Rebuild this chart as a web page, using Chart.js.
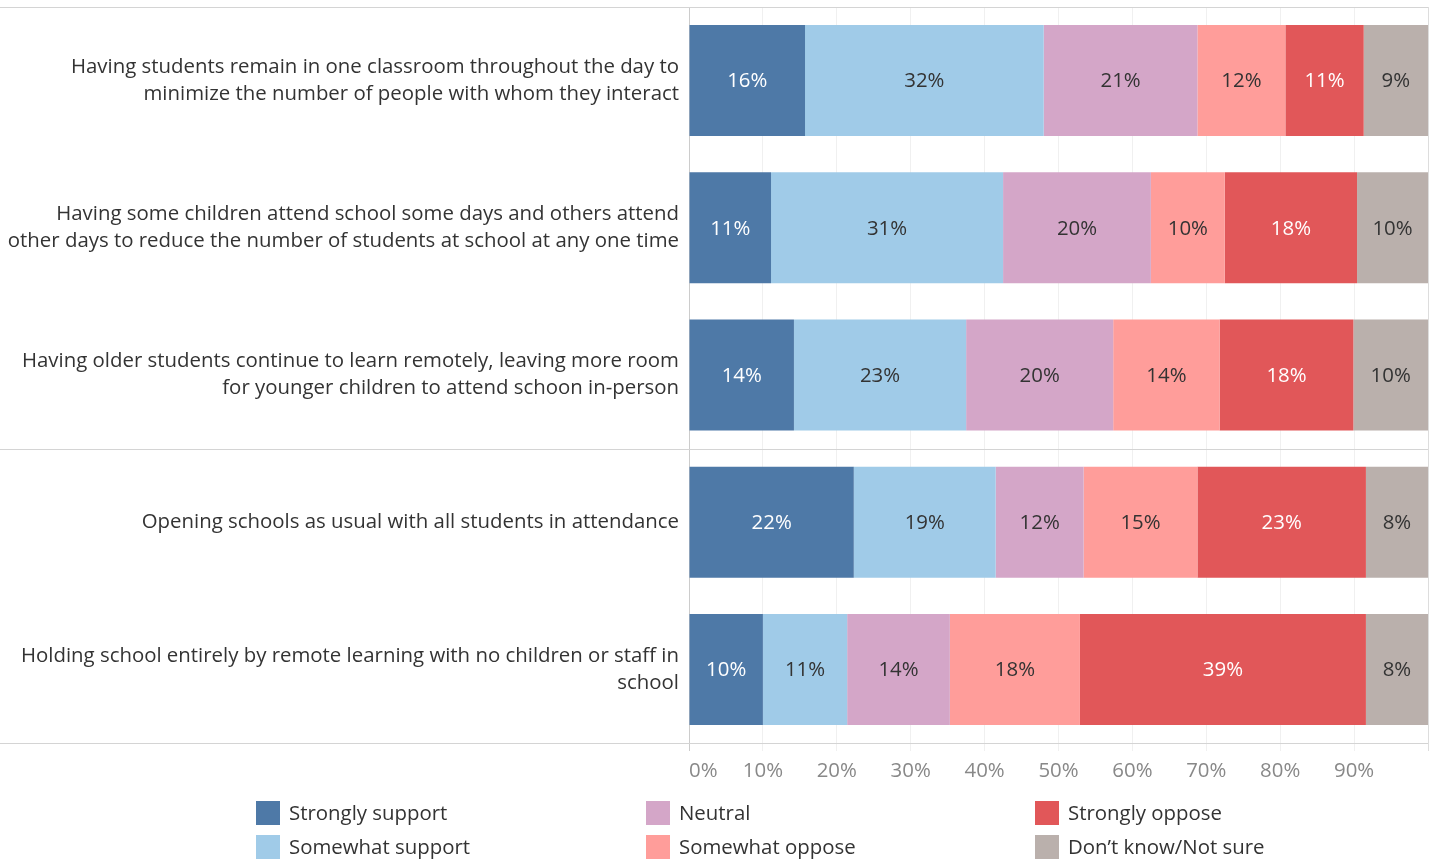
<!DOCTYPE html>
<html>
<head>
<meta charset="utf-8">
<script src="https://cdn.jsdelivr.net/npm/chart.js@4.4.1/dist/chart.umd.min.js"></script>
<style>
  html, body { margin: 0; padding: 0; background: #fff; }
  #wrap { width: 1433px; height: 863px; position: relative; }
</style>
</head>
<body>
<div id="wrap"><canvas id="chart"></canvas></div>
<script>
const questions = [
  ['Having students remain in one classroom throughout the day to', 'minimize the number of people with whom they interact'],
  ['Having some children attend school some days and others attend', 'other days to reduce the number of students at school at any one time'],
  ['Having older students continue to learn remotely, leaving more room', 'for younger children to attend schoon in-person'],
  'Opening schools as usual with all students in attendance',
  ['Holding school entirely by remote learning with no children or staff in', 'school']
];

const responses = ['Strongly support', 'Somewhat support', 'Neutral', 'Somewhat oppose', 'Strongly oppose', 'Don\u2019t know/Not sure'];

const stronglySupport = [15.7, 11.1, 14.2, 22.3, 10.0];
const somewhatSupport = [32.3, 31.4, 23.3, 19.2, 11.4];
const neutral         = [20.8, 20.0, 19.9, 11.9, 13.9];
const somewhatOppose  = [11.9, 10.0, 14.4, 15.4, 17.6];
const stronglyOppose  = [10.6, 17.9, 18.1, 22.8, 38.7];
const dontKnow        = [8.7, 9.6, 10.1, 8.4, 8.4];

const xTicks = [0, 10, 20, 30, 40, 50, 60, 70, 80, 90];

const colors = ['#4e79a7', '#a0cbe8', '#d4a6c8', '#ff9d9a', '#e15759', '#bab0ac'];
const labelColors = ['#ffffff', '#333333', '#333333', '#333333', '#ffffff', '#333333'];
const FONT = '"Open Sans"';
const SIZE = 20.4;

const series = [stronglySupport, somewhatSupport, neutral, somewhatOppose, stronglyOppose, dontKnow];

// draws the % inside each segment
const segmentLabels = {
  id: 'segmentLabels',
  afterDatasetsDraw(chart) {
    const ctx = chart.ctx;
    ctx.save();
    ctx.font = SIZE + 'px ' + FONT;
    ctx.textAlign = 'center';
    ctx.textBaseline = 'middle';
    chart.data.datasets.forEach((ds, i) => {
      const meta = chart.getDatasetMeta(i);
      meta.data.forEach((bar, j) => {
        const p = bar.getProps(['x', 'y', 'base'], true);
        ctx.fillStyle = labelColors[i];
        ctx.fillText(Math.round(ds.data[j]) + '%', (p.x + p.base) / 2, p.y + 1);
      });
    });
    ctx.restore();
  }
};

// header rules and legend, tableau style
const frame = {
  id: 'frame',
  afterDraw(chart) {
    const ctx = chart.ctx;
    const area = chart.chartArea;
    const y = chart.scales.y;
    ctx.save();
    ctx.strokeStyle = '#d4d4d4';
    ctx.lineWidth = 1;
    const rule = (py) => {
      ctx.beginPath();
      ctx.moveTo(0, Math.round(py) + 0.5);
      ctx.lineTo(area.right, Math.round(py) + 0.5);
      ctx.stroke();
    };
    rule(area.top);
    rule(y.getPixelForValue(2.5));
    rule(area.bottom);

    // legend, 3 columns x 2 rows
    const colX = [256, 646, 1035];
    const rowY = [813, 847];
    ctx.font = SIZE + 'px ' + FONT;
    ctx.textBaseline = 'middle';
    ctx.textAlign = 'left';
    responses.forEach((name, i) => {
      const cx = colX[Math.floor(i / 2)];
      const cy = rowY[i % 2];
      ctx.fillStyle = colors[i];
      ctx.fillRect(cx, cy - 12, 24, 24);
      ctx.fillStyle = '#333333';
      ctx.fillText(name, cx + 33, cy + 1);
    });
    ctx.restore();
  }
};

new Chart(document.getElementById('chart'), {
  type: 'bar',
  data: {
    labels: questions,
    datasets: responses.map((name, i) => ({
      label: name,
      data: series[i],
      backgroundColor: colors[i],
      borderWidth: 0,
      categoryPercentage: 1,
      barPercentage: 0.754
    }))
  },
  plugins: [segmentLabels, frame],
  options: {
    indexAxis: 'y',
    responsive: true,
    maintainAspectRatio: false,
    animation: false,
    layout: { padding: { top: 7, right: 5, left: 0, bottom: 0 } },
    scales: {
      x: {
        stacked: true,
        min: 0,
        max: 100,
        afterBuildTicks(scale) {
          scale.ticks = xTicks.concat([100]).map(v => ({ value: v }));
        },
        afterFit(scale) {
          scale.height = 120;
          scale.paddingLeft = 0;
          scale.paddingRight = 0;
        },
        border: { display: false },
        grid: {
          color: (c) => c.tick && c.tick.value === 0 ? '#cccccc' : (c.tick && c.tick.value === 100 ? '#dddddd' : '#f0f0f0'),
          tickLength: 8
        },
        ticks: {
          align: 'inner',
          padding: 8,
          color: '#888888',
          font: { family: FONT, size: SIZE },
          callback: (v) => v === 100 ? '' : v + '%'
        }
      },
      y: {
        stacked: true,
        afterFit(scale) {
          scale.width = 689;
          scale.paddingTop = 0;
          scale.paddingBottom = 0;
        },
        border: { display: false },
        grid: { display: false, drawTicks: false },
        ticks: {
          padding: 10,
          color: '#333333',
          font: { family: FONT, size: SIZE, lineHeight: 1.33 }
        }
      }
    },
    plugins: {
      legend: { display: false },
      tooltip: { enabled: false }
    }
  }
});
</script>
</body>
</html>
